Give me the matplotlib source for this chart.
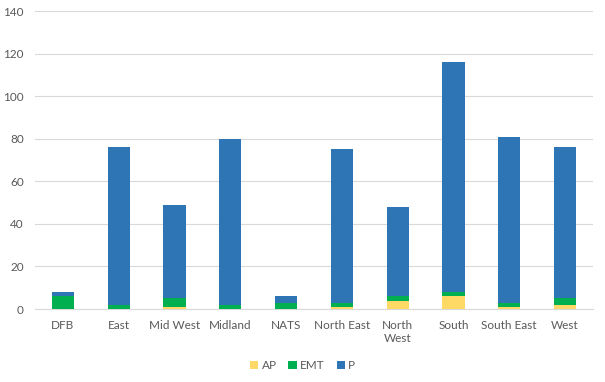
import matplotlib
matplotlib.use("Agg")
import matplotlib.pyplot as plt
import numpy as np

plt.rcParams['font.family'] = ['Lato', 'DejaVu Sans']

categories = ["DFB", "East", "Mid West", "Midland", "NATS", "North East",
              "North\nWest", "South", "South East", "West"]
ap = [0, 0, 1, 0, 0, 1, 4, 6, 1, 2]
emt = [6, 2, 4, 2, 3, 2, 2, 2, 2, 3]
p = [2, 74, 44, 78, 3, 72, 42, 108, 78, 71]
yticks = [0, 20, 40, 60, 80, 100, 120, 140]

colors = {"AP": "#FFD966", "EMT": "#00B050", "P": "#2E75B6"}

fig = plt.figure(figsize=(6.05, 3.82), dpi=100)
ax = fig.add_axes([0.058, 0.191, 0.922, 0.78])
x = np.arange(len(categories))
w = 0.4
ap_a = np.array(ap); emt_a = np.array(emt); p_a = np.array(p)
ax.bar(x, ap_a, w, color=colors["AP"], label="AP", zorder=3)
ax.bar(x, emt_a, w, bottom=ap_a, color=colors["EMT"], label="EMT", zorder=3)
ax.bar(x, p_a, w, bottom=ap_a + emt_a, color=colors["P"], label="P", zorder=3)

ax.set_xlim(-0.5, len(categories) - 0.5)
ax.set_ylim(0, 140)
ax.set_yticks(yticks)
ax.set_xticks(x)
ax.set_xticklabels(categories)
ax.yaxis.grid(True, color="#D9D9D9", linewidth=0.8, zorder=0)
for s in ["top", "right", "left"]:
    ax.spines[s].set_visible(False)
ax.spines["bottom"].set_color("#D9D9D9")
ax.tick_params(axis="both", length=0, labelsize=8.5, labelcolor="#595959")
ax.tick_params(axis="x", pad=8)
ax.tick_params(axis="y", pad=8)

leg = fig.legend(loc="center", bbox_to_anchor=(0.5, 0.042), ncol=3, frameon=False,
                 fontsize=8.5, handlelength=0.7, handleheight=0.7, columnspacing=1.0,
                 handletextpad=0.3)
for t in leg.get_texts():
    t.set_color("#595959")

fig.savefig("out.png", dpi=100)
